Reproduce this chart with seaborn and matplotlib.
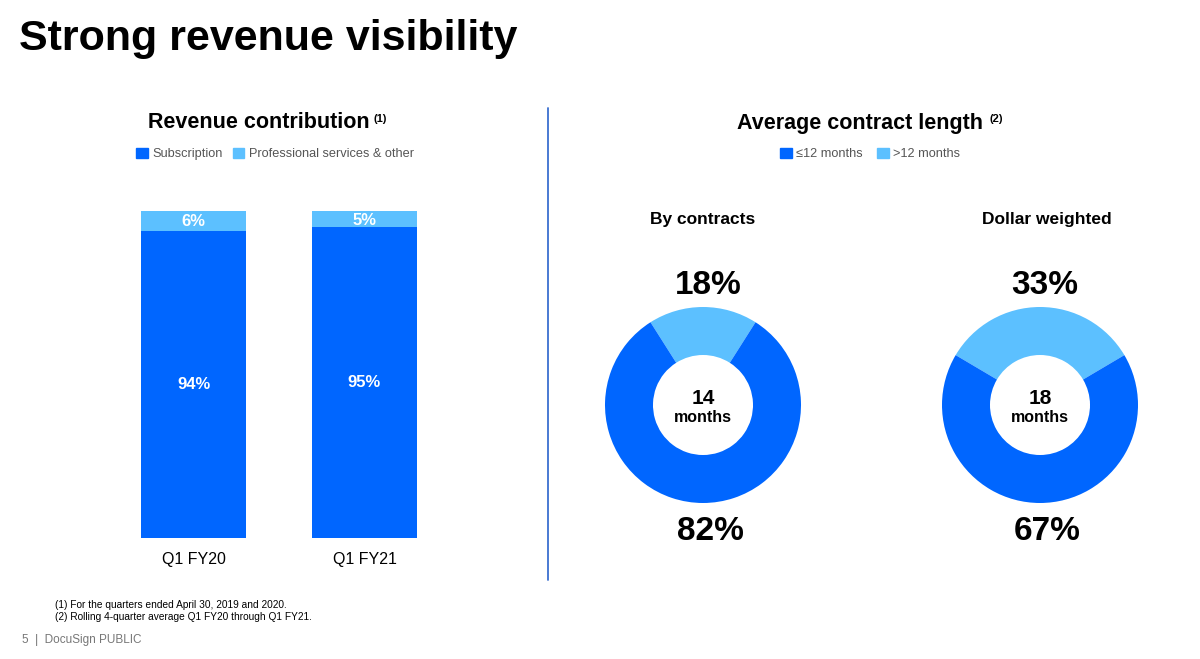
import numpy as np
import pandas as pd
import matplotlib
matplotlib.use("Agg")
import matplotlib.pyplot as plt
import seaborn as sns
from matplotlib.patches import Patch
from matplotlib.lines import Line2D

# data
quarters = ["Q1 FY20", "Q1 FY21"]
subscription = [94, 95]
services = [6, 5]
donut_titles = ["By contracts", "Dollar weighted"]
short_share = [82, 67]   # <=12 months
long_share = [18, 33]    # >12 months
avg_months = ["14", "18"]

dark = "#0066FF"
light = "#5CC0FF"

sns.set_theme(style="white")
plt.rcParams["font.family"] = ["Liberation Sans", "DejaVu Sans"]
plt.rcParams["text.color"] = "black"
plt.rcParams["xtick.color"] = "black"

W, H = 1200, 659
fig = plt.figure(figsize=(W / 100, H / 100), dpi=100)

def fx(px):
    return px / W

def fy(py):
    return 1 - py / H

# title
fig.text(fx(19), fy(39), "Strong revenue visibility", fontsize=31, fontweight="bold",
         ha="left", va="center", color="black")

# bar chart
ax = fig.add_axes([fx(108), fy(538), fx(342), (538 - 211) / H])
df = pd.DataFrame({"quarter": quarters, "sub": subscription, "total": np.add(subscription, services)})
sns.barplot(data=df, x="quarter", y="total", color=light, width=0.614, ax=ax,
            saturation=1, linewidth=0)
sns.barplot(data=df, x="quarter", y="sub", color=dark, width=0.614, ax=ax,
            saturation=1, linewidth=0)
ax.set_xlim(-0.5, 1.5)
ax.set_ylim(0, 100)
ax.set_yticks([])
ax.set_xlabel("")
ax.set_ylabel("")
ax.tick_params(axis="x", length=0, pad=10, labelsize=11.5, labelcolor="black")
sns.despine(ax=ax, left=True, bottom=True)
for i in range(len(quarters)):
    ax.text(i, subscription[i] / 2, f"{subscription[i]}%", ha="center", va="center",
            color="white", fontsize=12, fontweight="bold")
    ax.text(i, subscription[i] + services[i] / 2 - 0.3, f"{services[i]}%", ha="center",
            va="center", color="white", fontsize=12, fontweight="bold")

fig.text(fx(259), fy(123), "Revenue contribution", fontsize=15.5, fontweight="bold",
         ha="center", va="center")
fig.text(fx(374), fy(119), "(1)", fontsize=8, fontweight="bold", ha="left", va="center")
fig.legend(handles=[Patch(color=dark, label="Subscription"),
                    Patch(color=light, label="Professional services & other")],
           loc="center", bbox_to_anchor=(fx(275), fy(154)), ncol=2, frameon=False,
           fontsize=9.2, handlelength=0.9, handleheight=0.9, handletextpad=0.35,
           columnspacing=0.8, labelcolor="#555555")

# separator
fig.add_artist(Line2D([fx(548), fx(548)], [fy(108), fy(580)], color="#3A6FD0", lw=1.3))

# donuts
fig.text(fx(860), fy(123), "Average contract length", fontsize=15.5, fontweight="bold",
         ha="center", va="center")
fig.text(fx(989), fy(119), "(2)", fontsize=8, fontweight="bold", ha="left", va="center")
fig.legend(handles=[Patch(color=dark, label="≤12 months"),
                    Patch(color=light, label=">12 months")],
           loc="center", bbox_to_anchor=(fx(870), fy(154)), ncol=2, frameon=False,
           fontsize=9.2, handlelength=0.9, handleheight=0.9, handletextpad=0.3,
           columnspacing=1.2, labelcolor="#555555")

centers = [(703, 405), (1040, 405)]
for i, (cx, cy) in enumerate(centers):
    dax = fig.add_axes([fx(cx - 150), fy(cy + 150), fx(300), 300 / H])
    start = 90 - long_share[i] * 1.8
    dax.pie([long_share[i], short_share[i]], colors=[light, dark], startangle=start,
            radius=0.98, wedgeprops=dict(width=0.48, edgecolor="none"))
    dax.set_xlim(-1.5, 1.5)
    dax.set_ylim(-1.5, 1.5)
    dax.set_aspect("equal")
    dax.axis("off")
    dax.text(0.05, 1.20, f"{long_share[i]}%", ha="center", va="center", fontsize=24,
             fontweight="bold", clip_on=False)
    dax.text(0.07, -1.26, f"{short_share[i]}%", ha="center", va="center", fontsize=24,
             fontweight="bold", clip_on=False)
    dax.text(0, 0.06, avg_months[i], ha="center", va="center", fontsize=15, fontweight="bold")
    dax.text(0, -0.13, "months", ha="center", va="center", fontsize=11.5, fontweight="bold")
    fig.text(fx(cx + (0 if i == 0 else 7)), fy(219), donut_titles[i], fontsize=12.5,
             fontweight="bold", ha="center", va="center")

# footnotes
fig.text(fx(55), fy(605), "(1) For the quarters ended April 30, 2019 and 2020.", fontsize=7.3,
         ha="left", va="center")
fig.text(fx(55), fy(617), "(2) Rolling 4-quarter average Q1 FY20 through Q1 FY21.", fontsize=7.3,
         ha="left", va="center")
fig.text(fx(22), fy(640), "5  |  DocuSign PUBLIC", fontsize=8.5, color="#777777",
         ha="left", va="center")

fig.savefig("out.png", dpi=100)
